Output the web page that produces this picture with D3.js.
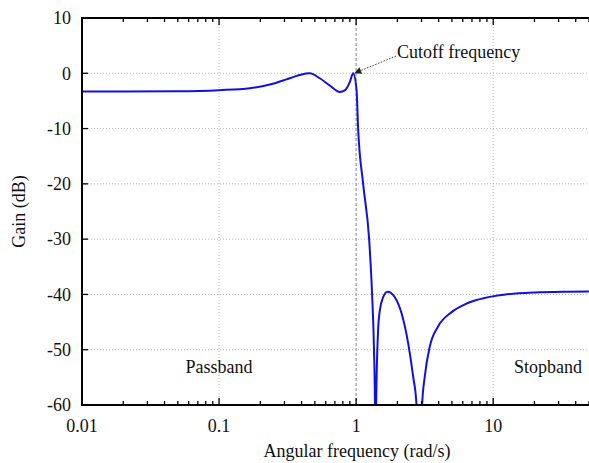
<!DOCTYPE html>
<html>
<head>
<meta charset="utf-8">
<script src="https://cdn.jsdelivr.net/npm/d3@7"></script>
<style>
  body { margin: 0; background: #fff; }
  text { font-family: "Liberation Serif", "DejaVu Serif", serif; fill: #111; }
</style>
</head>
<body>
<div id="chart"></div>
<script>
// Values
const freq = [0.01, 0.02, 0.05, 0.1, 0.168, 0.247, 0.31, 0.355, 0.395, 0.459, 0.543, 0.642, 0.761, 0.827, 0.899, 0.951,
  1.007, 1.034, 1.125, 1.244, 1.308, 1.35, 1.372, 1.385, 1.4, 1.447, 1.489, 1.574, 1.694, 1.916, 2.144, 2.396,
  2.605, 2.758, 2.89, 3.03, 3.17, 3.45, 3.96, 4.97, 6.21, 7.35, 8.5, 9.9, 12, 15.4, 20, 35, 50];
const gainDb = [-3.3, -3.3, -3.25, -3.05, -2.7, -1.9, -1.1, -0.6, -0.25, 0, -0.9, -2.2, -3.4, -3.1, -1.6, 0,
  -3, -10, -20, -30, -40, -50, -60, -90, -60, -46.4, -42.9, -40.5, -39.5, -40.5, -43.4, -48.8,
  -54.8, -60, -90, -60, -54.8, -49.4, -45.8, -43.2, -41.8, -41.1, -40.7, -40.35, -40.05, -39.8, -39.65, -39.5, -39.45];
const yTicks = [10, 0, -10, -20, -30, -40, -50, -60];
const xMajor = [0.01, 0.1, 1, 10];

const width = 589;
const height = 463;
const margin = { top: 18, right: 0, bottom: 58, left: 82 };

const svg = d3.select("#chart")
    .append("svg")
    .attr("width", width)
    .attr("height", height);

const x = d3.scaleLog()
    .domain([0.01, 50])
    .range([margin.left, width]);

const y = d3.scaleLinear()
    .domain([-60, 10])
    .range([height - margin.bottom, margin.top]);

const x0 = margin.left, x1 = width, y0 = margin.top, y1 = height - margin.bottom;

// grid
svg.append("g")
    .selectAll("line")
    .data(yTicks.filter(d => d > -60 && d < 10))
    .join("line")
    .attr("x1", x0).attr("x2", x1)
    .attr("y1", d => y(d)).attr("y2", d => y(d))
    .attr("stroke", "#bbb")
    .attr("stroke-width", 1)
    .attr("stroke-dasharray", "1,2");

svg.append("g")
    .selectAll("line")
    .data([0.1, 10])
    .join("line")
    .attr("x1", d => x(d)).attr("x2", d => x(d))
    .attr("y1", y0).attr("y2", y1)
    .attr("stroke", "#bbb")
    .attr("stroke-width", 1)
    .attr("stroke-dasharray", "1,2");

// cutoff marker line
svg.append("line")
    .attr("x1", x(1)).attr("x2", x(1))
    .attr("y1", y0).attr("y2", y1)
    .attr("stroke", "#999")
    .attr("stroke-width", 1.2)
    .attr("stroke-dasharray", "3,2");

// curve
svg.append("clipPath")
    .attr("id", "clip")
    .append("rect")
    .attr("x", x0).attr("y", y0)
    .attr("width", x1 - x0).attr("height", y1 - y0);

const data = freq.map((f, i) => ({ f: f, g: gainDb[i] }));

const line = d3.line()
    .x(d => x(d.f))
    .y(d => y(d.g))
    .curve(d3.curveMonotoneX);

svg.append("path")
    .datum(data)
    .attr("clip-path", "url(#clip)")
    .attr("fill", "none")
    .attr("stroke", "#1010e6")
    .attr("stroke-width", 2)
    .attr("d", line);

// ticks (inward) on bottom and top
const allTicks = x.ticks();
const isMajor = d => Math.abs(Math.log10(d) - Math.round(Math.log10(d))) < 1e-9;

[y1, y0].forEach((yy, k) => {
    const dir = k === 0 ? -1 : 1;
    svg.append("g")
        .selectAll("line")
        .data(allTicks)
        .join("line")
        .attr("x1", d => x(d)).attr("x2", d => x(d))
        .attr("y1", yy)
        .attr("y2", d => yy + dir * (isMajor(d) ? 7 : 4))
        .attr("stroke", "#000")
        .attr("stroke-width", 1.3);
});

svg.append("g")
    .selectAll("line")
    .data(yTicks)
    .join("line")
    .attr("x1", x0).attr("x2", x0 + 6)
    .attr("y1", d => y(d)).attr("y2", d => y(d))
    .attr("stroke", "#000")
    .attr("stroke-width", 1.3);

// axis lines
svg.append("path")
    .attr("d", `M${x1},${y0}H${x0}V${y1}H${x1}`)
    .attr("fill", "none")
    .attr("stroke", "#000")
    .attr("stroke-width", 2);

// tick labels
svg.append("g")
    .selectAll("text")
    .data(yTicks)
    .join("text")
    .attr("x", 71)
    .attr("y", d => y(d))
    .attr("dy", "0.35em")
    .attr("text-anchor", "end")
    .style("font-size", "18px")
    .text(d => d);

svg.append("g")
    .selectAll("text")
    .data(xMajor)
    .join("text")
    .attr("x", d => x(d))
    .attr("y", 432)
    .attr("text-anchor", "middle")
    .style("font-size", "18px")
    .text(d => d);

// axis titles
svg.append("text")
    .attr("x", 357)
    .attr("y", 457)
    .attr("text-anchor", "middle")
    .style("font-size", "18px")
    .text("Angular frequency (rad/s)");

svg.append("text")
    .attr("transform", `translate(25, ${(y0 + y1) / 2}) rotate(-90)`)
    .attr("text-anchor", "middle")
    .style("font-size", "18px")
    .text("Gain (dB)");

// band labels
svg.append("text")
    .attr("x", x(0.1))
    .attr("y", 373)
    .attr("text-anchor", "middle")
    .style("font-size", "18px")
    .text("Passband");

svg.append("text")
    .attr("x", 548)
    .attr("y", 373)
    .attr("text-anchor", "middle")
    .style("font-size", "18px")
    .text("Stopband");

// cutoff annotation with arrow
svg.append("defs")
    .append("marker")
    .attr("id", "arrow")
    .attr("viewBox", "0 0 10 10")
    .attr("refX", 10).attr("refY", 5)
    .attr("markerWidth", 10).attr("markerHeight", 7)
    .attr("markerUnits", "userSpaceOnUse")
    .attr("orient", "auto")
    .append("path")
    .attr("d", "M0,0L10,5L0,10z")
    .attr("fill", "#222");

svg.append("line")
    .attr("x1", 396).attr("y1", 56)
    .attr("x2", x(0.97)).attr("y2", y(0))
    .attr("stroke", "#333")
    .attr("stroke-width", 1)
    .attr("stroke-dasharray", "1.5,1.5")
    .attr("marker-end", "url(#arrow)");

svg.append("text")
    .attr("x", 397)
    .attr("y", 58)
    .style("font-size", "18px")
    .text("Cutoff frequency");
</script>
</body>
</html>
